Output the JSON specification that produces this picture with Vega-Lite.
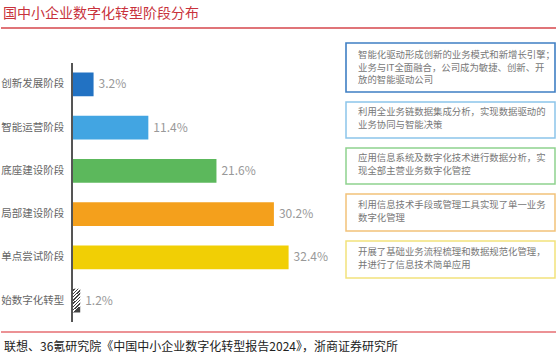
{
  "$schema": "https://vega.github.io/schema/vega-lite/v6.json",
  "padding": 0,
  "background": "white",
  "config": {"view": {"stroke": null}, "font": "Noto Sans CJK SC"},
  "datasets": {
    "stages": [
      {"stage": "创新发展阶段", "share": 0.032, "kind": "solid"},
      {"stage": "智能运营阶段", "share": 0.114, "kind": "solid"},
      {"stage": "底座建设阶段", "share": 0.216, "kind": "solid"},
      {"stage": "局部建设阶段", "share": 0.302, "kind": "solid"},
      {"stage": "单点尝试阶段", "share": 0.324, "kind": "solid"},
      {"stage": "始数字化转型", "share": 0.012, "kind": "hatched"}
    ],
    "notes": [
      {"stage": "创新发展阶段", "desc": "智能化驱动形成创新的业务模式和新增长引擎；\n业务与IT全面融合，公司成为敏捷、创新、开\n放的智能驱动公司"},
      {"stage": "智能运营阶段", "desc": "利用全业务链数据集成分析，实现数据驱动的\n业务协同与智能决策"},
      {"stage": "底座建设阶段", "desc": "应用信息系统及数字化技术进行数据分析，实\n现全部主营业务数字化管控"},
      {"stage": "局部建设阶段", "desc": "利用信息技术手段或管理工具实现了单一业务\n数字化管理"},
      {"stage": "单点尝试阶段", "desc": "开展了基础业务流程梳理和数据规范化管理，\n并进行了信息技术简单应用"}
    ],
    "header": [{"title": "国中小企业数字化转型阶段分布"}],
    "footer": [{"source": "联想、36氪研究院《中国中小企业数字化转型报告2024》，浙商证券研究所"}]
  },
  "spacing": 8,
  "vconcat": [
    {
      "width": 556,
      "height": 34,
      "data": {"name": "header"},
      "layer": [
        {
          "mark": {"type": "text", "align": "left", "baseline": "middle", "fontSize": 14, "color": "#c8323c", "dx": 2, "dy": -3},
          "encoding": {
            "x": {"datum": 0, "type": "quantitative", "scale": {"domain": [0, 1]}, "axis": null},
            "text": {"field": "title"}
          }
        },
        {
          "mark": {"type": "rule", "color": "#e07478", "strokeWidth": 2, "yOffset": -6},
          "encoding": {
            "x": {"datum": 0, "type": "quantitative"},
            "x2": {"datum": 1},
            "y": {"datum": 0, "type": "quantitative", "scale": {"domain": [0, 1]}, "axis": null}
          }
        }
      ]
    },
    {
      "spacing": 17,
      "hconcat": [
        {
          "spacing": 7,
          "bounds": "flush",
          "vconcat": [
            {"width": 10, "height": 13, "data": {"values": []}, "mark": "point", "encoding": {}},
            {
              "width": 325,
              "height": 259,
              "data": {"name": "stages"},
              "encoding": {
                "y": {"field": "stage", "type": "nominal",
                      "scale": {"domain": ["创新发展阶段", "智能运营阶段", "底座建设阶段", "局部建设阶段", "单点尝试阶段", "始数字化转型"], "paddingInner": 0.45, "paddingOuter": 0.22},
                      "axis": null}
              },
              "layer": [
                {
                  "transform": [{"filter": "datum.kind === 'solid'"}],
                  "mark": {"type": "bar"},
                  "encoding": {
                    "x": {"field": "share", "type": "quantitative", "scale": {"domain": [-0.1066, 0.38], "nice": false, "zero": false}, "axis": null},
                    "x2": {"datum": 0},
                    "color": {"field": "stage", "type": "nominal", "legend": null,
                              "scale": {"domain": ["创新发展阶段", "智能运营阶段", "底座建设阶段", "局部建设阶段", "单点尝试阶段"],
                                        "range": ["#2272c3", "#42a5e2", "#5cb85c", "#f4a01c", "#f1cf05"]}}
                  }
                },
                {
                  "transform": [{"filter": "datum.kind === 'hatched'"}],
                  "mark": {"type": "bar", "color": {"gradient": "linear", "x1": 0, "y1": 0, "x2": 0.32, "y2": 1,
                    "stops": [
                      {"offset": 0, "color": "#ffffff"}, {"offset": 0.07, "color": "#ffffff"}, {"offset": 0.07, "color": "#444444"}, {"offset": 0.125, "color": "#444444"},
                      {"offset": 0.125, "color": "#ffffff"}, {"offset": 0.195, "color": "#ffffff"}, {"offset": 0.195, "color": "#444444"}, {"offset": 0.25, "color": "#444444"},
                      {"offset": 0.25, "color": "#ffffff"}, {"offset": 0.32, "color": "#ffffff"}, {"offset": 0.32, "color": "#444444"}, {"offset": 0.375, "color": "#444444"},
                      {"offset": 0.375, "color": "#ffffff"}, {"offset": 0.445, "color": "#ffffff"}, {"offset": 0.445, "color": "#444444"}, {"offset": 0.5, "color": "#444444"},
                      {"offset": 0.5, "color": "#ffffff"}, {"offset": 0.57, "color": "#ffffff"}, {"offset": 0.57, "color": "#444444"}, {"offset": 0.625, "color": "#444444"},
                      {"offset": 0.625, "color": "#ffffff"}, {"offset": 0.695, "color": "#ffffff"}, {"offset": 0.695, "color": "#444444"}, {"offset": 0.75, "color": "#444444"},
                      {"offset": 0.75, "color": "#ffffff"}, {"offset": 0.82, "color": "#ffffff"}, {"offset": 0.82, "color": "#444444"}, {"offset": 0.875, "color": "#444444"},
                      {"offset": 0.875, "color": "#ffffff"}, {"offset": 0.945, "color": "#ffffff"}, {"offset": 0.945, "color": "#444444"}, {"offset": 1, "color": "#444444"}
                    ]}},
                  "encoding": {
                    "x": {"field": "share", "type": "quantitative"},
                    "x2": {"datum": 0}
                  }
                },
                {
                  "mark": {"type": "text", "align": "left", "baseline": "middle", "dx": 5, "fontSize": 12, "color": "#999"},
                  "encoding": {
                    "x": {"field": "share", "type": "quantitative"},
                    "text": {"field": "share", "type": "quantitative", "format": ".1%"}
                  }
                },
                {
                  "mark": {"type": "text", "align": "right", "baseline": "middle", "dx": -8, "fontSize": 10.5, "color": "#666"},
                  "encoding": {
                    "x": {"datum": 0, "type": "quantitative"},
                    "text": {"field": "stage", "type": "nominal"}
                  }
                },
                {
                  "mark": {"type": "rule", "color": "#555", "strokeWidth": 1.5},
                  "encoding": {"x": {"datum": 0, "type": "quantitative"}, "y": null}
                }
              ]
            }
          ]
        },
        {
          "spacing": 10,
          "bounds": "flush",
          "vconcat": [
            {
              "width": 209, "height": 49,
              "view": {"stroke": "#3f7fc4", "strokeWidth": 1.6},
              "data": {"name": "notes"},
              "transform": [{"filter": "datum.stage === '创新发展阶段'"}],
              "mark": {"type": "text", "align": "left", "baseline": "middle", "lineBreak": "\n", "lineHeight": 12.5, "fontSize": 9.4, "color": "#777", "dx": 12, "dy": 12},
              "encoding": {
                "x": {"datum": 0, "type": "quantitative", "scale": {"domain": [0, 1]}, "axis": null},
                "y": {"datum": 1, "type": "quantitative", "scale": {"domain": [0, 1]}, "axis": null},
                "text": {"field": "desc"}
              }
            },
            {
              "width": 209, "height": 36,
              "view": {"stroke": "#8cc5ea", "strokeWidth": 1.5},
              "data": {"name": "notes"},
              "transform": [{"filter": "datum.stage === '智能运营阶段'"}],
              "mark": {"type": "text", "align": "left", "baseline": "middle", "lineBreak": "\n", "lineHeight": 12.5, "fontSize": 9.4, "color": "#777", "dx": 12, "dy": 10},
              "encoding": {
                "x": {"datum": 0, "type": "quantitative", "scale": {"domain": [0, 1]}, "axis": null},
                "y": {"datum": 1, "type": "quantitative", "scale": {"domain": [0, 1]}, "axis": null},
                "text": {"field": "desc"}
              }
            },
            {
              "width": 209, "height": 36,
              "view": {"stroke": "#8fd28f", "strokeWidth": 1.5},
              "data": {"name": "notes"},
              "transform": [{"filter": "datum.stage === '底座建设阶段'"}],
              "mark": {"type": "text", "align": "left", "baseline": "middle", "lineBreak": "\n", "lineHeight": 12.5, "fontSize": 9.4, "color": "#777", "dx": 12, "dy": 10},
              "encoding": {
                "x": {"datum": 0, "type": "quantitative", "scale": {"domain": [0, 1]}, "axis": null},
                "y": {"datum": 1, "type": "quantitative", "scale": {"domain": [0, 1]}, "axis": null},
                "text": {"field": "desc"}
              }
            },
            {
              "width": 209, "height": 37,
              "view": {"stroke": "#f2c27a", "strokeWidth": 1.5},
              "data": {"name": "notes"},
              "transform": [{"filter": "datum.stage === '局部建设阶段'"}],
              "mark": {"type": "text", "align": "left", "baseline": "middle", "lineBreak": "\n", "lineHeight": 12.5, "fontSize": 9.4, "color": "#777", "dx": 12, "dy": 11},
              "encoding": {
                "x": {"datum": 0, "type": "quantitative", "scale": {"domain": [0, 1]}, "axis": null},
                "y": {"datum": 1, "type": "quantitative", "scale": {"domain": [0, 1]}, "axis": null},
                "text": {"field": "desc"}
              }
            },
            {
              "width": 209, "height": 37,
              "view": {"stroke": "#f2e27c", "strokeWidth": 1.5},
              "data": {"name": "notes"},
              "transform": [{"filter": "datum.stage === '单点尝试阶段'"}],
              "mark": {"type": "text", "align": "left", "baseline": "middle", "lineBreak": "\n", "lineHeight": 12.5, "fontSize": 9.4, "color": "#777", "dx": 12, "dy": 11},
              "encoding": {
                "x": {"datum": 0, "type": "quantitative", "scale": {"domain": [0, 1]}, "axis": null},
                "y": {"datum": 1, "type": "quantitative", "scale": {"domain": [0, 1]}, "axis": null},
                "text": {"field": "desc"}
              }
            }
          ]
        }
      ]
    },
    {
      "width": 556,
      "height": 30,
      "data": {"name": "footer"},
      "layer": [
        {
          "mark": {"type": "text", "align": "left", "baseline": "middle", "fontSize": 12, "color": "#222", "dx": 3},
          "encoding": {
            "x": {"datum": 0, "type": "quantitative", "scale": {"domain": [0, 1]}, "axis": null},
            "text": {"field": "source"}
          }
        },
        {
          "mark": {"type": "rule", "color": "#d9262c", "strokeWidth": 1.2},
          "encoding": {
            "x": {"datum": 0, "type": "quantitative"},
            "x2": {"datum": 1},
            "y": {"datum": 1, "type": "quantitative", "scale": {"domain": [0, 1]}, "axis": null}
          }
        }
      ]
    }
  ]
}
